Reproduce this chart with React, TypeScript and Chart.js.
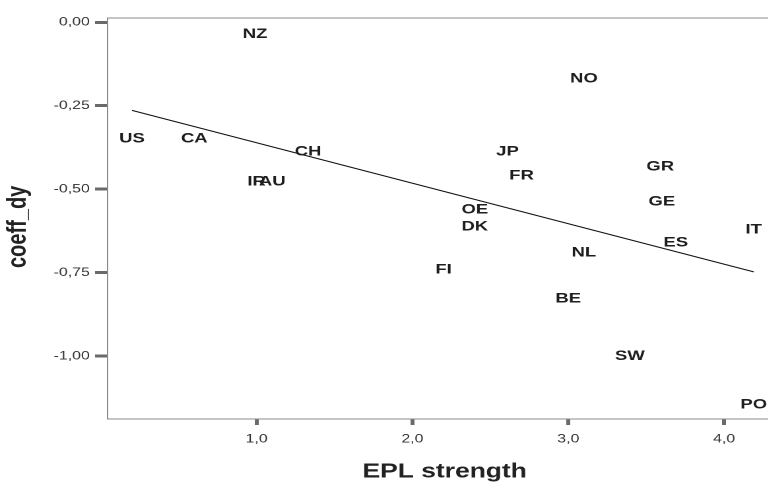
import React, { useEffect, useRef } from "react";
import { Chart, registerables } from "chart.js";

Chart.register(...registerables);

// ---- data ----
const countries = ["NZ", "US", "CA", "CH", "IR", "AU", "NO", "JP", "FR", "GR", "GE", "OE", "DK", "NL", "ES", "IT", "FI", "BE", "SW", "PO"];
const eplStrength = [0.99, 0.2, 0.6, 1.33, 1.0, 1.1, 3.1, 2.61, 2.7, 3.59, 3.6, 2.4, 2.4, 3.1, 3.69, 4.19, 2.2, 3.0, 3.395, 4.19];
const coeffDy = [-0.035, -0.349, -0.349, -0.388, -0.478, -0.478, -0.169, -0.388, -0.459, -0.432, -0.538, -0.561, -0.612, -0.691, -0.661, -0.621, -0.741, -0.828, -1.001, -1.146];
const fitX = [0.2, 4.19];
const fitY = [-0.264, -0.748];
const xTicks = [1, 2, 3, 4];
const yTicks = [0, -0.25, -0.5, -0.75, -1.0];
const xTitle = "EPL strength";
const yTitle = "coeff_dy";

const X_MIN = 0.042;
const X_MAX = 4.372;
const Y_MIN = -1.189;
const Y_MAX = 0.013;

const FONT = '"Liberation Sans", Arial, Helvetica, sans-serif';
const STRETCH = 1.32;

const labelPlugin = {
  id: "countryLabels",
  afterDatasetsDraw(chart: any) {
    const meta = chart.getDatasetMeta(0);
    const ctx = chart.ctx;
    ctx.save();
    ctx.font = `bold 14px ${FONT}`;
    ctx.fillStyle = "#1e1e1e";
    ctx.textAlign = "center";
    ctx.textBaseline = "middle";
    meta.data.forEach((el: any, i: number) => {
      ctx.fillText(countries[i], el.x, el.y);
    });
    ctx.restore();
  },
};

export default function App() {
  const canvasRef = useRef<HTMLCanvasElement | null>(null);

  useEffect(() => {
    if (!canvasRef.current) return;
    const points = eplStrength.map((x, i) => ({ x, y: coeffDy[i] }));
    const fit = fitX.map((x, i) => ({ x, y: fitY[i] }));
    const chart = new Chart(canvasRef.current, {
      type: "scatter",
      data: {
        datasets: [
          {
            data: points,
            pointRadius: 0,
            pointHoverRadius: 0,
            showLine: false,
          },
          {
            data: fit,
            showLine: true,
            borderColor: "#111111",
            borderWidth: 1,
            pointRadius: 0,
            fill: false,
          },
        ],
      },
      options: {
        animation: false,
        responsive: true,
        maintainAspectRatio: false,
        devicePixelRatio: 2,
        layout: { padding: { top: 18, left: 0, right: 0, bottom: 0 } },
        plugins: {
          legend: { display: false },
          tooltip: { enabled: false },
        },
        scales: {
          x: {
            type: "linear",
            position: "bottom",
            min: X_MIN,
            max: X_MAX,
            afterBuildTicks: (s: any) => {
              s.ticks = xTicks.map((v) => ({ value: v }));
            },
            afterFit: (s: any) => {
              s.height = 63;
            },
            border: { display: true, color: "#8a8a8a", width: 1 },
            grid: {
              display: true,
              drawOnChartArea: false,
              drawTicks: true,
              tickLength: 6,
              tickWidth: 3,
              tickColor: "#6a6a6a",
            },
            ticks: {
              padding: 7,
              color: "#333333",
              font: { family: FONT, size: 12 },
              maxRotation: 0,
              callback: (v: any) => Number(v).toFixed(1).replace(".", ","),
            },
            title: {
              display: true,
              text: xTitle,
              color: "#222222",
              font: { family: FONT, size: 20, weight: "bold", lineHeight: 1 },
              padding: { top: 4, bottom: 0 },
            },
          },
          xTop: {
            type: "linear",
            position: "top",
            min: X_MIN,
            max: X_MAX,
            afterFit: (s: any) => {
              s.height = 0;
            },
            border: { display: true, color: "#8a8a8a", width: 1 },
            grid: { display: false },
            ticks: { display: false },
          },
          y: {
            type: "linear",
            position: "left",
            min: Y_MIN,
            max: Y_MAX,
            afterBuildTicks: (s: any) => {
              s.ticks = yTicks.map((v) => ({ value: v }));
            },
            afterFit: (s: any) => {
              s.width = 81.3;
            },
            border: { display: true, color: "#8a8a8a", width: 1 },
            grid: {
              display: true,
              drawOnChartArea: false,
              drawTicks: true,
              tickLength: 9.3,
              tickWidth: 3,
              tickColor: "#6a6a6a",
            },
            ticks: {
              padding: 4,
              color: "#333333",
              font: { family: FONT, size: 12 },
              callback: (v: any) => {
                const n = Math.abs(Number(v)) < 1e-9 ? 0 : Number(v);
                return n.toFixed(2).replace(".", ",");
              },
            },
            title: {
              display: true,
              text: yTitle + "   ",
              color: "#222222",
              font: { family: FONT, size: 20, weight: "bold", lineHeight: 1 },
              padding: { top: 4, bottom: 0 },
            },
          },
        },
      },
      plugins: [labelPlugin],
    } as any);
    return () => chart.destroy();
  }, []);

  return (
    <div
      style={{
        position: "fixed",
        left: 0,
        top: 0,
        width: 768,
        height: 482,
        overflow: "hidden",
        background: "#ffffff",
      }}
    >
      <div
        style={{
          position: "relative",
          width: 593,
          height: 482,
          transform: `scaleX(${STRETCH})`,
          transformOrigin: "0 0",
        }}
      >
        <canvas ref={canvasRef} />
      </div>
    </div>
  );
}
